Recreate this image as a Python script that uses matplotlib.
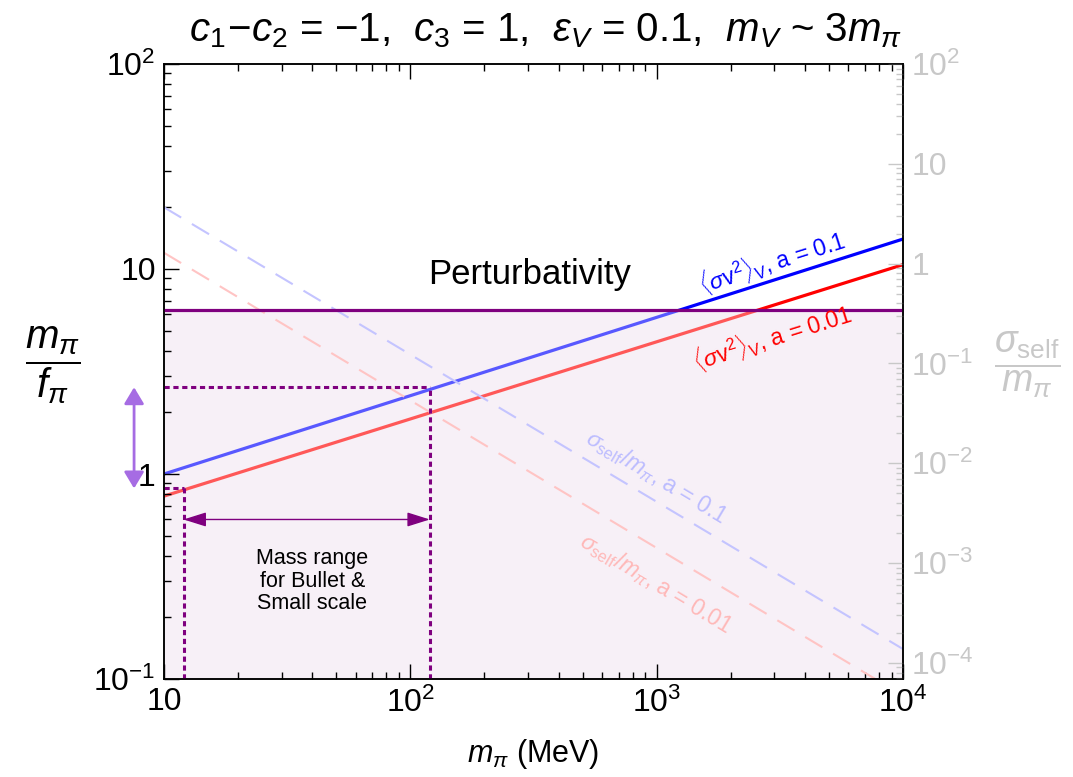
import numpy as np
import matplotlib.pyplot as plt
from matplotlib import transforms
from matplotlib.ticker import FixedLocator, FixedFormatter, LogLocator, NullFormatter

plt.rcParams['font.family'] = ['Liberation Sans', 'DejaVu Sans']
plt.rcParams['mathtext.fontset'] = 'custom'
plt.rcParams['mathtext.rm'] = 'Liberation Sans'
plt.rcParams['mathtext.it'] = 'Liberation Sans:italic'
plt.rcParams['mathtext.bf'] = 'Liberation Sans:bold'

# pion mass range (MeV) and the curves at its two ends
m_pi = [10, 1e4]
relic_a01 = [1.0, 14.0]      # <sigma v^2>_V, a = 0.1
relic_a001 = [0.78, 10.5]    # <sigma v^2>_V, a = 0.01
self_a01 = [20.0, 0.14]      # sigma_self/m_pi, a = 0.1 (in m/f units)
self_a001 = [12.0, 0.083]    # sigma_self/m_pi, a = 0.01
pert_bound = 6.28            # m_pi/f_pi < 2 pi

# Bullet cluster / small scale window
bullet_m = [12, 120]
bullet_ratio = [0.85, 2.65]
arrow_y = 0.60

x_ticks = [10, 1e2, 1e3, 1e4]
x_labels = ['10', '$10^2$', '$10^3$', '$10^4$']
y_ticks = [0.1, 1, 10, 100]
y_labels = ['$10^{-1}$', '1', '10', '$10^2$']
r_ticks = [1e-4, 1e-3, 1e-2, 1e-1, 1, 10, 100]
r_labels = ['$10^{-4}$', '$10^{-3}$', '$10^{-2}$', '$10^{-1}$', '1', '10', '$10^2$']
r_lim = (6.9e-5, 100)

purple = '#7f007f'
grey = '#c8c8c8'

fig = plt.figure(figsize=(10.73, 7.77), dpi=100)
ax = fig.add_axes([164/1073, 1 - 679/777, 739/1073, 615/777])
ax.set_xscale('log'); ax.set_yscale('log')
ax.set_xlim(m_pi); ax.set_ylim(0.1, 100)

# shaded perturbative region: base colour below, a whitish veil on top of the solid lines
ax.fill_between(m_pi, 0.1, pert_bound, color=(243/255, 232/255, 243/255), lw=0, zorder=0.5)
ax.plot(m_pi, relic_a01, color='#0000ff', lw=2.3, zorder=1)
ax.plot(m_pi, relic_a001, color='#ff0000', lw=2.3, zorder=1)
ax.fill_between(m_pi, 0.1, pert_bound, color='white', alpha=0.35, lw=0, zorder=1.5)

ax.plot(m_pi, self_a01, color='#c4c4ff', lw=1.5, dashes=(9.6, 6), zorder=2)
ax.plot(m_pi, self_a001, color='#ffc4c4', lw=1.5, dashes=(9.6, 6), zorder=2)
ax.axhline(pert_bound, color=purple, lw=2.3, zorder=3)

# dotted guides
dot = dict(color=purple, lw=2.2, ls=(0, (1.7, 1.2)), zorder=3)
for m, r in zip(bullet_m, bullet_ratio):
    ax.plot([m_pi[0], m], [r, r], **dot)
    ax.plot([m, m], [0.1, r], **dot)

ax.annotate('', xy=(bullet_m[1], arrow_y), xytext=(bullet_m[0], arrow_y),
            arrowprops=dict(arrowstyle='<|-|>,head_length=0.7,head_width=0.22',
                            color=purple, lw=1, mutation_scale=20,
                            shrinkA=0, shrinkB=0), zorder=3)
ax.text(40, 0.30, 'Mass range\nfor Bullet &\nSmall scale', ha='center', va='center',
        fontsize=15.5, linespacing=1.1, zorder=4)

blend = transforms.blended_transform_factory(ax.transAxes, ax.transData)
ax.annotate('', xy=(-0.0405, bullet_ratio[0]), xytext=(-0.0405, bullet_ratio[1]),
            xycoords=blend, textcoords=blend, annotation_clip=False,
            arrowprops=dict(arrowstyle='<|-|>,head_length=0.5,head_width=0.3',
                            color='#a66ce3', lw=2, mutation_scale=20,
                            shrinkA=0, shrinkB=0))

ax.text(305, 9.35, 'Perturbativity', ha='center', va='center', fontsize=25, zorder=4)


def slope_deg(ys):
    p = ax.transData.transform(list(zip(m_pi, ys)))
    return np.degrees(np.arctan2(p[1, 1] - p[0, 1], p[1, 0] - p[0, 0]))


lab = dict(ha='center', va='center', rotation_mode='anchor', fontsize=16.5, zorder=4)
ax.text(2944, 10.8, r'$\langle\sigma \mathrm{v}^2\rangle_\mathrm{V}$, a = 0.1', color='#0000ff',
        rotation=slope_deg(relic_a01), **lab)
ax.text(2944, 4.65, r'$\langle\sigma \mathrm{v}^2\rangle_\mathrm{V}$, a = 0.01', color='#ff0000',
        rotation=slope_deg(relic_a001), **lab)
ax.text(995, 0.97, r'$\sigma_\mathrm{self}/m_\pi$, a = 0.1', color='#bcbcff',
        rotation=slope_deg(self_a01), **lab)
ax.text(995, 0.294, r'$\sigma_\mathrm{self}/m_\pi$, a = 0.01', color='#ffb8b8',
        rotation=slope_deg(self_a001), **lab)

# axes, ticks
ax.xaxis.set_major_locator(FixedLocator(x_ticks))
ax.xaxis.set_major_formatter(FixedFormatter(x_labels))
ax.yaxis.set_major_locator(FixedLocator(y_ticks))
ax.yaxis.set_major_formatter(FixedFormatter(y_labels))
for a in (ax.xaxis, ax.yaxis):
    a.set_minor_locator(LogLocator(base=10, subs=np.arange(2, 10)))
    a.set_minor_formatter(NullFormatter())
ax.tick_params(which='both', direction='in', top=True, right=False, width=1, labelsize=23)
ax.tick_params(which='major', length=11)
ax.tick_params(which='minor', length=5)
ax.tick_params(axis='y', pad=6)
ax.tick_params(axis='x', pad=6)
for s in ax.spines.values():
    s.set_linewidth(1.1)

ax2 = ax.twinx()
ax2.set_yscale('log')
ax2.set_ylim(r_lim)
ax2.yaxis.set_major_locator(FixedLocator(r_ticks))
ax2.yaxis.set_major_formatter(FixedFormatter(r_labels))
ax2.yaxis.set_minor_locator(LogLocator(base=10, subs=np.arange(2, 10), numticks=20))
ax2.yaxis.set_minor_formatter(NullFormatter())
ax2.tick_params(which='both', direction='in', colors=grey, width=1, labelsize=23, pad=6)
ax2.tick_params(which='major', length=11)
ax2.tick_params(which='minor', length=5)
for s in ax2.spines.values():
    s.set_linewidth(1.1)

ax.set_xlabel(r'$m_\pi$ (MeV)', fontsize=22, labelpad=13)
fig.text(0.049, 0.53, r'$\dfrac{m_\pi}{f_\pi}$', fontsize=29, ha='center', va='center')
fig.text(0.957, 0.53, r'$\dfrac{\sigma_\mathrm{self}}{m_\pi}$', fontsize=27, ha='center',
         va='center', color=grey)
fig.text(0.508, 0.96, r'$c_1\!-\!c_2$ = $-$1,  $c_3$ = 1,  $\epsilon_V$ = 0.1,  $m_V$ ~ 3$m_\pi$',
         fontsize=29, ha='center', va='center')

fig.savefig('out.png', dpi=100)
